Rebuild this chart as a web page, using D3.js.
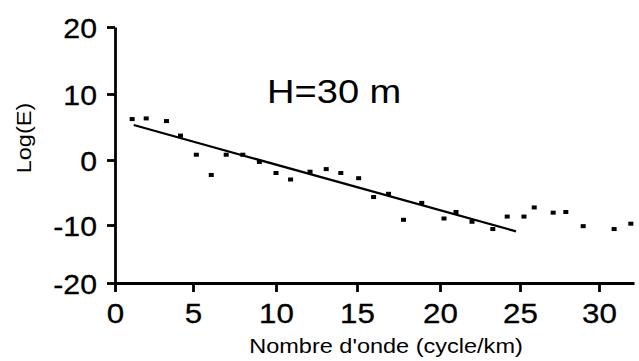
<!DOCTYPE html>
<html>
<head>
<meta charset="utf-8">
<script src="https://cdn.jsdelivr.net/npm/d3@7"></script>
<style>
  html, body { margin: 0; padding: 0; background: #fff; }
  svg { display: block; }
  text { font-family: "Liberation Sans", Arial, Helvetica, sans-serif; fill: #000; }
</style>
</head>
<body>
<svg id="chart" width="639" height="361"></svg>
<script>
// Wavenumber (cycle/km)
const waveNumber = [1.1, 2.0, 3.3, 4.2, 5.2, 6.1, 7.0, 8.0, 9.0, 10.0, 10.9, 12.1, 13.1, 14.0, 15.1, 16.0,
                    16.9, 17.8, 18.9, 20.25, 21.0, 22.0, 23.3, 24.2, 25.25, 25.9, 27.1, 27.9, 29.0, 30.95, 32.0];
// Log(E)
const logE = [6.2, 6.3, 5.9, 3.7, 0.8, -2.3, 0.8, 0.8, -0.3, -2.0, -3.0, -1.8, -1.4, -2.0, -2.8, -5.7,
              -5.2, -9.2, -6.6, -9.0, -8.0, -9.5, -10.7, -8.7, -8.7, -7.3, -8.1, -8.0, -10.2, -10.7, -9.8];
// Fitted line end points
const fitX = [1.2, 24.75];
const fitY = [5.3, -11.1];

const xTicks = [0, 5, 10, 15, 20, 25, 30];
const yTicks = [-20, -10, 0, 10, 20];
const annotation = "H=30 m";
const xTitle = "Nombre d'onde (cycle/km)";
const yTitle = "Log(E)";

const svg = d3.select("#chart");

// polylinear scales to follow the (slightly uneven) scanned axes
const x = d3.scaleLinear()
  .domain([0, 5, 10, 15, 20, 25, 30, 32.2])
  .range([115, 193, 276, 357, 440, 520, 599, 634]);
const y = d3.scaleLinear()
  .domain([-20, -10, 0, 10, 20])
  .range([283, 225, 160, 94, 27]);

const stretch = 1.12;
const fmt = d => String(d);   // plain hyphen minus, as in the original

// X axis
const gx = svg.append("g")
  .attr("transform", `translate(0,${y(-20)})`)
  .call(d3.axisBottom(x).tickValues(xTicks).tickFormat(fmt).tickSize(9).tickSizeOuter(0).tickPadding(0));
gx.select(".domain").attr("stroke", "#000").attr("stroke-width", 2.8);
gx.selectAll(".tick line").attr("stroke", "#000").attr("stroke-width", 2.8);
gx.selectAll(".tick text")
  .attr("y", 0).attr("dy", null)
  .attr("transform", `translate(0,40) scale(${stretch},1)`)
  .style("font-size", "28px")
  .style("stroke", "#000").style("stroke-width", "0.3px");

// Y axis
const gy = svg.append("g")
  .attr("transform", `translate(${x(0)},0)`)
  .call(d3.axisLeft(y).tickValues(yTicks).tickFormat(fmt).tickSize(8).tickSizeOuter(0).tickPadding(0));
gy.select(".domain").attr("stroke", "#000").attr("stroke-width", 2.8);
gy.selectAll(".tick line").attr("stroke", "#000").attr("stroke-width", 2.8);
gy.selectAll(".tick text")
  .attr("x", 0).attr("dy", null)
  .attr("transform", `translate(-18,10) scale(${stretch},1)`)
  .attr("text-anchor", "end")
  .style("font-size", "27px")
  .style("stroke", "#000").style("stroke-width", "0.3px");
svg.selectAll(".domain").attr("fill", "none");

// fitted line
svg.append("line")
  .attr("x1", x(fitX[0])).attr("y1", y(fitY[0]))
  .attr("x2", x(fitX[1])).attr("y2", y(fitY[1]))
  .attr("stroke", "#000").attr("stroke-width", 2.2);

// data markers
const pts = waveNumber.map((d, i) => ({ x: d, y: logE[i] }));
svg.append("g").selectAll("rect").data(pts).join("rect")
  .attr("x", d => x(d.x) - 2.5)
  .attr("y", d => y(d.y) - 2)
  .attr("width", 5).attr("height", 4)
  .attr("fill", "#000");

// annotation
svg.append("text")
  .attr("transform", `translate(267,103) scale(${stretch},1)`)
  .style("font-size", "34px")
  .text(annotation);

// axis titles
svg.append("text")
  .attr("transform", `translate(386,353) scale(${stretch},1)`)
  .attr("text-anchor", "middle")
  .style("font-size", "21px")
  .text(xTitle);

svg.append("text")
  .attr("transform", `translate(31,138) rotate(-90) scale(${stretch},1)`)
  .attr("text-anchor", "middle")
  .style("font-size", "21px")
  .text(yTitle);
</script>
</body>
</html>
